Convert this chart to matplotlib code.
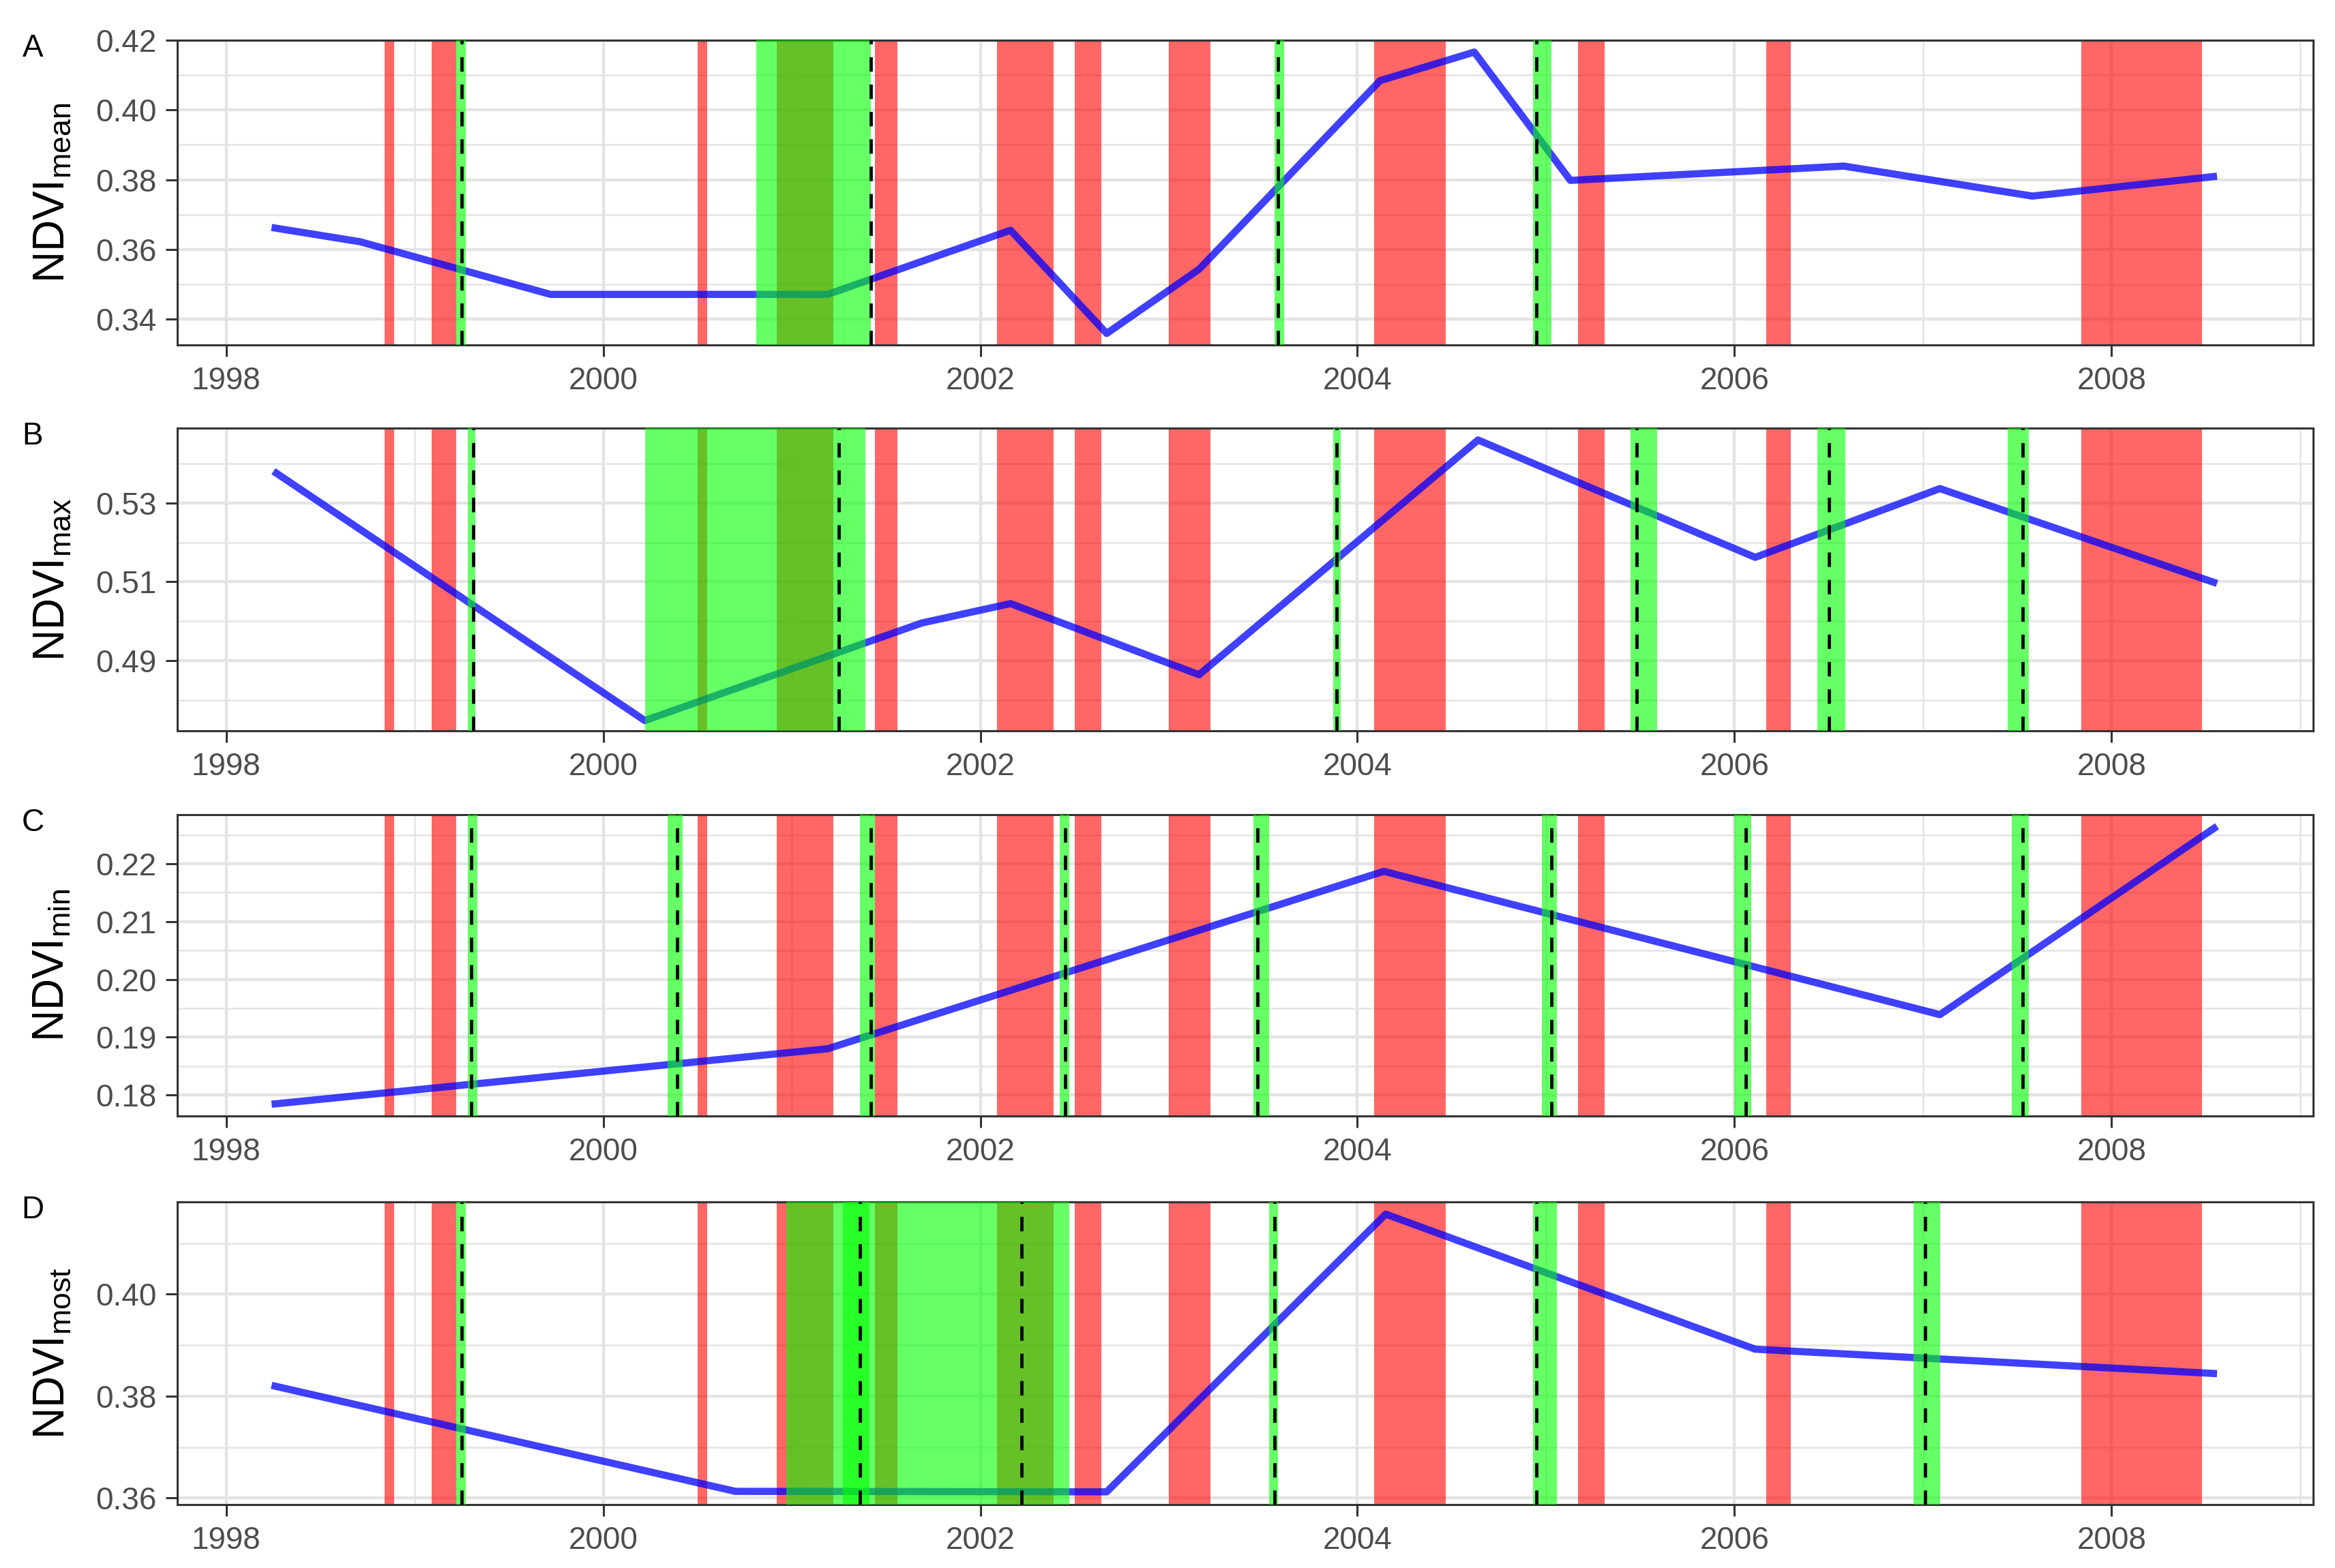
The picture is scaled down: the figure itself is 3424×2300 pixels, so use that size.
import matplotlib
matplotlib.use("Agg")
import matplotlib.pyplot as plt
from matplotlib.ticker import MultipleLocator, FormatStrFormatter

plt.rcParams["font.family"] = ["Liberation Sans", "DejaVu Sans"]
plt.rcParams["mathtext.default"] = "regular"

# drought periods, same in every panel (decimal years)
drought_start = [1998.84, 1999.09, 2000.50, 2000.92, 2001.44, 2002.09,
                 2002.50, 2003.00, 2004.09, 2005.17, 2006.17, 2007.84]
drought_end = [1998.89, 1999.22, 2000.55, 2001.22, 2001.56, 2002.39,
               2002.64, 2003.22, 2004.47, 2005.31, 2006.30, 2008.48]

# A: NDVI mean
a_years = [1998.24, 1998.71, 1999.72, 2001.19, 2002.16, 2002.67, 2003.16,
           2004.12, 2004.62, 2005.13, 2006.58, 2007.58, 2008.56]
a_trend = [0.3663, 0.3622, 0.3471, 0.3471, 0.3655, 0.3359, 0.3543,
           0.4084, 0.4166, 0.3798, 0.3839, 0.3753, 0.3810]
a_breaks = [1999.25, 2001.42, 2003.58, 2004.95]
a_ci_lo = [1999.22, 2000.81, 2003.56, 2004.93]
a_ci_hi = [1999.27, 2001.42, 2003.61, 2005.03]

# B: NDVI max
b_years = [1998.25, 2000.22, 2001.69, 2002.16, 2003.16, 2004.64, 2006.11,
           2007.09, 2008.56]
b_trend = [0.5380, 0.4749, 0.4996, 0.5045, 0.4865, 0.5459, 0.5162,
           0.5336, 0.5096]
b_breaks = [1999.31, 2001.25, 2003.89, 2005.48, 2006.50, 2007.53]
b_ci_lo = [1999.28, 2000.22, 2003.87, 2005.45, 2006.44, 2007.45]
b_ci_hi = [1999.32, 2001.39, 2003.91, 2005.59, 2006.59, 2007.56]

# C: NDVI min
c_years = [1998.24, 2001.19, 2004.14, 2007.09, 2008.56]
c_trend = [0.1784, 0.1880, 0.2187, 0.1939, 0.2265]
c_breaks = [1999.30, 2000.39, 2001.42, 2002.45, 2003.47, 2005.03,
            2006.06, 2007.53]
c_ci_lo = [1999.28, 2000.34, 2001.36, 2002.42, 2003.45, 2004.98,
           2006.00, 2007.47]
c_ci_hi = [1999.33, 2000.42, 2001.44, 2002.47, 2003.53, 2005.06,
           2006.09, 2007.56]

# D: NDVI most
d_years = [1998.24, 2000.70, 2002.67, 2004.15, 2006.11, 2008.56]
d_trend = [0.3821, 0.3613, 0.3612, 0.4157, 0.3892, 0.3844]
d_breaks = [1999.25, 2001.36, 2002.22, 2003.56, 2004.95, 2007.01]
d_ci_lo = [1999.22, 2000.97, 2001.27, 2003.53, 2004.93, 2006.95]
d_ci_hi = [1999.27, 2001.41, 2002.47, 2003.58, 2005.06, 2007.09]

# tag, label, series, y limits, major step, major offset
panels = [
    ("A", r"NDVI$_{mean}$", a_years, a_trend, a_breaks, a_ci_lo, a_ci_hi,
     (0.3326, 0.4200), 0.02, 0.0),
    ("B", r"NDVI$_{max}$", b_years, b_trend, b_breaks, b_ci_lo, b_ci_hi,
     (0.4723, 0.5489), 0.02, 0.01),
    ("C", r"NDVI$_{min}$", c_years, c_trend, c_breaks, c_ci_lo, c_ci_hi,
     (0.17636, 0.2285), 0.01, 0.0),
    ("D", r"NDVI$_{most}$", d_years, d_trend, d_breaks, d_ci_lo, d_ci_hi,
     (0.3587, 0.4181), 0.02, 0.0),
]

W, H = 3424, 2300
fig = plt.figure(figsize=(W / 200, H / 200), dpi=200)

# panel extents in pixels (top, bottom)
rows = [(59, 506), (628, 1072), (1195, 1637), (1763, 2207)]
left, right = 260, 3392
grid_col = "#E4E4E4"
edge_col = "#333333"

for (tag, ylab, yrs, trend, brk, lo, hi, ylim, step, off), (top, bot) in zip(panels, rows):
    ax = fig.add_axes([left / W, 1 - bot / H, (right - left) / W, (bot - top) / H])

    # drought bands, then trend, then breakpoint CIs on top
    for s, e in zip(drought_start, drought_end):
        ax.axvspan(s, e, color="#FF0000", alpha=0.6, lw=0, zorder=2)
    ax.plot(yrs, trend, color="#0000FF", alpha=0.75, lw=3.8,
            solid_joinstyle="round", solid_capstyle="butt", zorder=3)
    for s, e in zip(lo, hi):
        ax.axvspan(s, e, color="#00FF00", alpha=0.6, lw=0, zorder=4)
    for b in brk:
        ax.axvline(b, color="black", lw=1.7, dashes=(4.5, 4), zorder=5)

    ax.set_xlim(1997.74, 2009.07)
    ax.set_ylim(*ylim)
    ax.xaxis.set_major_locator(MultipleLocator(2))
    ax.xaxis.set_minor_locator(MultipleLocator(1))
    ax.yaxis.set_major_locator(MultipleLocator(step, offset=off))
    ax.yaxis.set_minor_locator(MultipleLocator(step / 2))
    ax.yaxis.set_major_formatter(FormatStrFormatter("%.2f"))

    ax.set_axisbelow(True)
    ax.grid(which="major", color=grid_col, lw=1.6)
    ax.grid(which="minor", color=grid_col, lw=0.9)
    ax.tick_params(which="major", direction="out", length=6, width=1.1,
                   color=edge_col, labelsize=16.5, labelcolor="#4D4D4D",
                   pad=5)
    ax.tick_params(which="minor", length=0)
    for sp in ax.spines.values():
        sp.set_color(edge_col)
        sp.set_linewidth(1.1)

    ax.set_ylabel(ylab, fontsize=23)
    ax.yaxis.set_label_coords(-0.049, 0.5)

    fig.text(48 / W, 1 - (top + 12) / H, tag, fontsize=16.5, ha="center",
             va="center")

fig.savefig("out.png", dpi=200)
